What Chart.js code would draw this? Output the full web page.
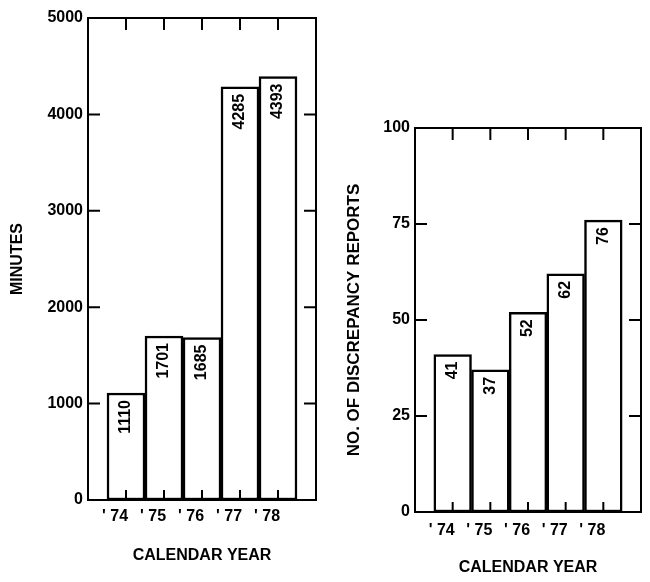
<!DOCTYPE html>
<html>
<head>
<meta charset="utf-8">
<script src="https://cdn.jsdelivr.net/npm/chart.js@4"></script>
<style>
  body { margin: 0; background: #fff; }
  .box { position: absolute; top: 0; height: 582px; }
  #left { left: 0; width: 330px; }
  #right { left: 330px; width: 320px; }
</style>
</head>
<body>
<div class="box" id="left"><canvas id="minutesChart"></canvas></div>
<div class="box" id="right"><canvas id="reportsChart"></canvas></div>
<script>
const years = ["' 74", "' 75", "' 76", "' 77", "' 78"];
const minutes = [1110, 1701, 1685, 4285, 4393];
const reports = [41, 37, 52, 62, 76];

const FONT = '"Liberation Sans", Arial, sans-serif';
Chart.defaults.font.family = FONT;
Chart.defaults.font.weight = 'bold';
Chart.defaults.font.size = 16;
Chart.defaults.color = '#000';

// box round the plot, inward ticks, values written up the bars
const framePlugin = {
  id: 'frame',
  afterDatasetsDraw(chart) {
    const { ctx, chartArea: a, scales: { x, y } } = chart;
    ctx.save();
    ctx.strokeStyle = '#000';
    ctx.lineWidth = 2;
    ctx.strokeRect(a.left, a.top, a.right - a.left, a.bottom - a.top);

    ctx.beginPath();
    years.forEach((_, i) => {
      const px = x.getPixelForValue(i);
      ctx.moveTo(px, a.top);
      ctx.lineTo(px, a.top + 12);
      ctx.moveTo(px, a.bottom);
      ctx.lineTo(px, a.bottom - 10);
    });
    y.ticks.forEach((t) => {
      if (t.value <= y.min || t.value >= y.max) return;
      const py = y.getPixelForValue(t.value);
      ctx.moveTo(a.left, py);
      ctx.lineTo(a.left + 12, py);
      ctx.moveTo(a.right, py);
      ctx.lineTo(a.right - 12, py);
    });
    ctx.stroke();

    const meta = chart.getDatasetMeta(0);
    const data = chart.data.datasets[0].data;
    ctx.font = 'bold 16px ' + FONT;
    ctx.fillStyle = '#000';
    ctx.textAlign = 'right';
    ctx.textBaseline = 'middle';
    meta.data.forEach((bar, i) => {
      ctx.save();
      ctx.translate(bar.x, bar.y + 7);
      ctx.rotate(-Math.PI / 2);
      ctx.fillText(String(data[i].y), 0, 0);
      ctx.restore();
    });
    ctx.restore();
  }
};

function makeChart(id, values, max, step, yTitle, lay) {
  const ctx = document.getElementById(id).getContext('2d');
  return new Chart(ctx, {
    type: 'bar',
    data: {
      datasets: [{
        data: values.map((v, i) => ({ x: i, y: v })),
        backgroundColor: '#fff',
        borderColor: '#000',
        borderWidth: 2.5,
        borderSkipped: false,
        barPercentage: 1,
        categoryPercentage: 1
      }]
    },
    options: {
      responsive: true,
      maintainAspectRatio: false,
      animation: false,
      layout: { padding: { top: lay.top, right: lay.right, left: 0, bottom: 0 } },
      plugins: { legend: { display: false }, tooltip: { enabled: false } },
      scales: {
        x: {
          type: 'linear',
          min: -1,
          max: 5,
          offset: false,
          grid: { display: false, drawTicks: false, offset: false },
          border: { display: false },
          ticks: {
            stepSize: 1,
            autoSkip: false,
            maxRotation: 0,
            padding: lay.xPad,
            labelOffset: -11,
            callback: (v) => years[v] || ''
          },
          title: {
            display: true,
            text: 'CALENDAR YEAR',
            font: { size: 16, weight: 'bold' },
            padding: { top: 0, bottom: lay.xTitlePad }
          },
          afterFit: (s) => { s.height = lay.xHeight; }
        },
        y: {
          min: 0,
          max: max,
          grid: { display: false, drawTicks: false },
          border: { display: false },
          ticks: { stepSize: step, padding: 5, callback: (v) => String(v) },
          title: {
            display: true,
            text: yTitle,
            font: { size: lay.yTitleSize, weight: 'bold' },
            padding: { top: lay.yTitlePad, bottom: 0 }
          },
          afterFit: (s) => { s.width = lay.yWidth; }
        }
      }
    },
    plugins: [framePlugin]
  });
}

makeChart('minutesChart', minutes, 5000, 1000, 'MINUTES',
  { top: 18, right: 14, xHeight: 82, yWidth: 88, xPad: 7, xTitlePad: 17, yTitlePad: 8, yTitleSize: 16 });
makeChart('reportsChart', reports, 100, 25, 'NO. OF DISCREPANCY REPORTS',
  { top: 128, right: 6, xHeight: 70, yWidth: 85, xPad: 9, xTitlePad: 5, yTitlePad: 14, yTitleSize: 17 });
</script>
</body>
</html>
